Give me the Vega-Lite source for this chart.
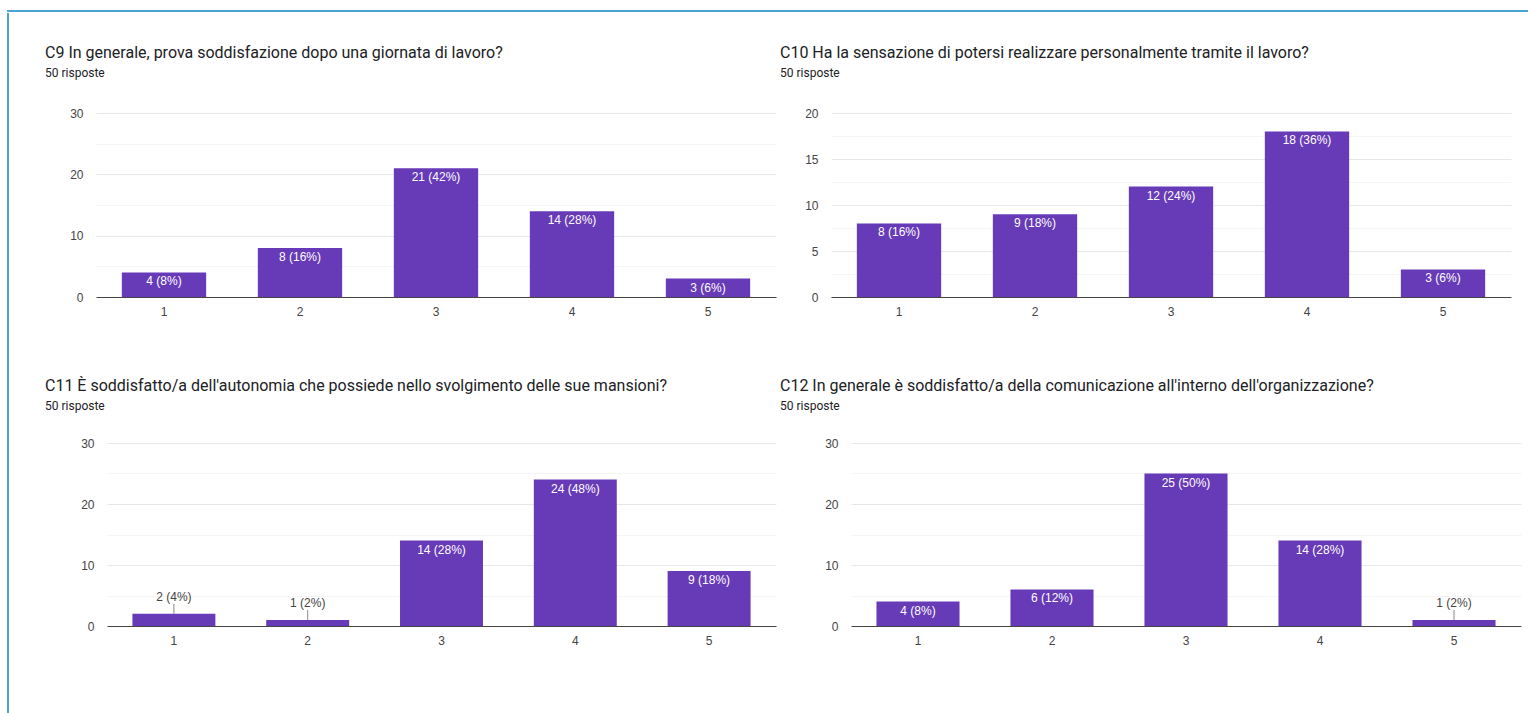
{
  "$schema": "https://vega.github.io/schema/vega-lite/v6.json",
  "padding": {"left": 7, "top": 10, "right": 0, "bottom": 0},
  "background": "white",
  "datasets": {
    "risposte": [
      {"q": "C9", "v": 1, "n": 4, "label": "4 (8%)"},
      {"q": "C9", "v": 2, "n": 8, "label": "8 (16%)"},
      {"q": "C9", "v": 3, "n": 21, "label": "21 (42%)"},
      {"q": "C9", "v": 4, "n": 14, "label": "14 (28%)"},
      {"q": "C9", "v": 5, "n": 3, "label": "3 (6%)"},
      {"q": "C10", "v": 1, "n": 8, "label": "8 (16%)"},
      {"q": "C10", "v": 2, "n": 9, "label": "9 (18%)"},
      {"q": "C10", "v": 3, "n": 12, "label": "12 (24%)"},
      {"q": "C10", "v": 4, "n": 18, "label": "18 (36%)"},
      {"q": "C10", "v": 5, "n": 3, "label": "3 (6%)"},
      {"q": "C11", "v": 1, "n": 2, "label": "2 (4%)"},
      {"q": "C11", "v": 2, "n": 1, "label": "1 (2%)"},
      {"q": "C11", "v": 3, "n": 14, "label": "14 (28%)"},
      {"q": "C11", "v": 4, "n": 24, "label": "24 (48%)"},
      {"q": "C11", "v": 5, "n": 9, "label": "9 (18%)"},
      {"q": "C12", "v": 1, "n": 4, "label": "4 (8%)"},
      {"q": "C12", "v": 2, "n": 6, "label": "6 (12%)"},
      {"q": "C12", "v": 3, "n": 25, "label": "25 (50%)"},
      {"q": "C12", "v": 4, "n": 14, "label": "14 (28%)"},
      {"q": "C12", "v": 5, "n": 1, "label": "1 (2%)"}
    ]
  },
  "spacing": 0,
  "vconcat": [
    {
      "width": 1530,
      "height": 0.01,
      "view": {"stroke": "#4fa3d1", "strokeWidth": 2},
      "data": {"values": []},
      "mark": {"type": "point", "opacity": 0},
      "encoding": {}
    },
    {
      "spacing": 30,
      "hconcat": [
        {
          "width": 0.01,
          "height": 710,
          "view": {"stroke": "#4fa3d1", "strokeWidth": 2},
          "data": {"values": []},
          "mark": {"type": "point", "opacity": 0},
          "encoding": {}
        },
        {
          "spacing": 30,
          "vconcat": [
            {
              "width": 0.01,
              "height": 0.01,
              "data": {"values": []},
              "mark": {"type": "point", "opacity": 0},
              "encoding": {}
            },
            {
              "spacing": 61,
              "vconcat": [
                {
                  "spacing": 4,
                  "hconcat": [
                    {
                      "width": 0.01,
                      "height": 0.01,
                      "data": {"values": []},
                      "mark": {"type": "point", "opacity": 0},
                      "encoding": {}
                    },
                    {
                      "width": 680,
                      "height": 184,
                      "data": {"name": "risposte"},
                      "transform": [{"filter": "datum.q === 'C9'"}],
                      "title": {"text": "C9 In generale, prova soddisfazione dopo una giornata di lavoro?", "subtitle": "50 risposte", "dx": -51},
                      "encoding": {
                        "x": {"field": "v", "type": "ordinal", "scale": {"paddingInner": 0.38, "paddingOuter": 0.19},
                              "axis": {"title": null, "labelAngle": 0, "ticks": false, "domainColor": "#444", "labelPadding": 9}},
                        "y": {"field": "n", "type": "quantitative", "scale": {"domain": [0, 30], "nice": false},
                              "axis": {"title": null, "values": [0, 5, 10, 15, 20, 25, 30], "ticks": false, "domain": false, "labelPadding": 13,
                                       "labelExpr": "datum.value % 10 === 0 ? datum.label : ''",
                                       "gridColor": {"condition": {"test": "datum.value % 10 === 0", "value": "#e8e8e8"}, "value": "#f4f4f4"}}}
                      },
                      "layer": [
                        {"mark": {"type": "bar", "color": "#673ab7"}},
                        {"transform": [{"filter": "datum.n > 2"}], "mark": {"type": "text", "baseline": "middle", "dy": 9, "color": "#ffffff"}, "encoding": {"text": {"field": "label"}}},
                        {"transform": [{"filter": "datum.n <= 2"}], "mark": {"type": "rule", "y2Offset": -10, "color": "#888888"}, "encoding": {"y2": {"field": "n"}}},
                        {"transform": [{"filter": "datum.n <= 2"}], "mark": {"type": "text", "baseline": "middle", "dy": -17, "color": "#444444"}, "encoding": {"text": {"field": "label"}}}
                      ]
                    },
                    {
                      "width": 680,
                      "height": 184,
                      "data": {"name": "risposte"},
                      "transform": [{"filter": "datum.q === 'C10'"}],
                      "title": {"text": "C10 Ha la sensazione di potersi realizzare personalmente tramite il lavoro?", "subtitle": "50 risposte", "dx": -51},
                      "encoding": {
                        "x": {"field": "v", "type": "ordinal", "scale": {"paddingInner": 0.38, "paddingOuter": 0.19},
                              "axis": {"title": null, "labelAngle": 0, "ticks": false, "domainColor": "#444", "labelPadding": 9}},
                        "y": {"field": "n", "type": "quantitative", "scale": {"domain": [0, 20], "nice": false},
                              "axis": {"title": null, "values": [0, 2.5, 5, 7.5, 10, 12.5, 15, 17.5, 20], "ticks": false, "domain": false, "labelPadding": 13,
                                       "labelExpr": "datum.value % 5 === 0 ? datum.label : ''",
                                       "gridColor": {"condition": {"test": "datum.value % 5 === 0", "value": "#e8e8e8"}, "value": "#f4f4f4"}}}
                      },
                      "layer": [
                        {"mark": {"type": "bar", "color": "#673ab7"}},
                        {"transform": [{"filter": "datum.n > 2"}], "mark": {"type": "text", "baseline": "middle", "dy": 9, "color": "#ffffff"}, "encoding": {"text": {"field": "label"}}},
                        {"transform": [{"filter": "datum.n <= 2"}], "mark": {"type": "rule", "y2Offset": -10, "color": "#888888"}, "encoding": {"y2": {"field": "n"}}},
                        {"transform": [{"filter": "datum.n <= 2"}], "mark": {"type": "text", "baseline": "middle", "dy": -17, "color": "#444444"}, "encoding": {"text": {"field": "label"}}}
                      ]
                    }
                  ]
                },
                {
                  "spacing": 4,
                  "hconcat": [
                    {
                      "width": 0.01,
                      "height": 0.01,
                      "data": {"values": []},
                      "mark": {"type": "point", "opacity": 0},
                      "encoding": {}
                    },
                    {
                      "width": 669,
                      "height": 183,
                      "data": {"name": "risposte"},
                      "transform": [{"filter": "datum.q === 'C11'"}],
                      "title": {"text": "C11 È soddisfatto/a dell'autonomia che possiede nello svolgimento delle sue mansioni?", "subtitle": "50 risposte", "dx": -62, "offset": 25},
                      "encoding": {
                        "x": {"field": "v", "type": "ordinal", "scale": {"paddingInner": 0.38, "paddingOuter": 0.19},
                              "axis": {"title": null, "labelAngle": 0, "ticks": false, "domainColor": "#444", "labelPadding": 9}},
                        "y": {"field": "n", "type": "quantitative", "scale": {"domain": [0, 30], "nice": false},
                              "axis": {"title": null, "values": [0, 5, 10, 15, 20, 25, 30], "ticks": false, "domain": false, "labelPadding": 13,
                                       "labelExpr": "datum.value % 10 === 0 ? datum.label : ''",
                                       "gridColor": {"condition": {"test": "datum.value % 10 === 0", "value": "#e8e8e8"}, "value": "#f4f4f4"}}}
                      },
                      "layer": [
                        {"mark": {"type": "bar", "color": "#673ab7"}},
                        {"transform": [{"filter": "datum.n > 2"}], "mark": {"type": "text", "baseline": "middle", "dy": 9, "color": "#ffffff"}, "encoding": {"text": {"field": "label"}}},
                        {"transform": [{"filter": "datum.n <= 2"}], "mark": {"type": "rule", "y2Offset": -10, "color": "#888888"}, "encoding": {"y2": {"field": "n"}}},
                        {"transform": [{"filter": "datum.n <= 2"}], "mark": {"type": "text", "baseline": "middle", "dy": -17, "color": "#444444"}, "encoding": {"text": {"field": "label"}}}
                      ]
                    },
                    {
                      "width": 670,
                      "height": 183,
                      "data": {"name": "risposte"},
                      "transform": [{"filter": "datum.q === 'C12'"}],
                      "title": {"text": "C12 In generale è  soddisfatto/a della comunicazione all'interno dell'organizzazione?", "subtitle": "50 risposte", "dx": -71, "offset": 25},
                      "encoding": {
                        "x": {"field": "v", "type": "ordinal", "scale": {"paddingInner": 0.38, "paddingOuter": 0.19},
                              "axis": {"title": null, "labelAngle": 0, "ticks": false, "domainColor": "#444", "labelPadding": 9}},
                        "y": {"field": "n", "type": "quantitative", "scale": {"domain": [0, 30], "nice": false},
                              "axis": {"title": null, "values": [0, 5, 10, 15, 20, 25, 30], "ticks": false, "domain": false, "labelPadding": 13,
                                       "labelExpr": "datum.value % 10 === 0 ? datum.label : ''",
                                       "gridColor": {"condition": {"test": "datum.value % 10 === 0", "value": "#e8e8e8"}, "value": "#f4f4f4"}}}
                      },
                      "layer": [
                        {"mark": {"type": "bar", "color": "#673ab7"}},
                        {"transform": [{"filter": "datum.n > 2"}], "mark": {"type": "text", "baseline": "middle", "dy": 9, "color": "#ffffff"}, "encoding": {"text": {"field": "label"}}},
                        {"transform": [{"filter": "datum.n <= 2"}], "mark": {"type": "rule", "y2Offset": -10, "color": "#888888"}, "encoding": {"y2": {"field": "n"}}},
                        {"transform": [{"filter": "datum.n <= 2"}], "mark": {"type": "text", "baseline": "middle", "dy": -17, "color": "#444444"}, "encoding": {"text": {"field": "label"}}}
                      ]
                    }
                  ]
                }
              ]
            }
          ]
        }
      ]
    }
  ],
  "config": {
    "font": "Roboto",
    "view": {"stroke": null},
    "axis": {"labelFont": "Liberation Sans", "labelFontSize": 12, "labelColor": "#444444"},
    "text": {"font": "Liberation Sans", "fontSize": 12},
    "title": {
      "anchor": "start",
      "frame": "group",
      "font": "Roboto",
      "fontSize": 16,
      "fontWeight": "normal",
      "color": "#202124",
      "subtitleFont": "Roboto",
      "subtitleFontSize": 12,
      "subtitleColor": "#202124",
      "subtitlePadding": 7,
      "offset": 28
    }
  }
}
